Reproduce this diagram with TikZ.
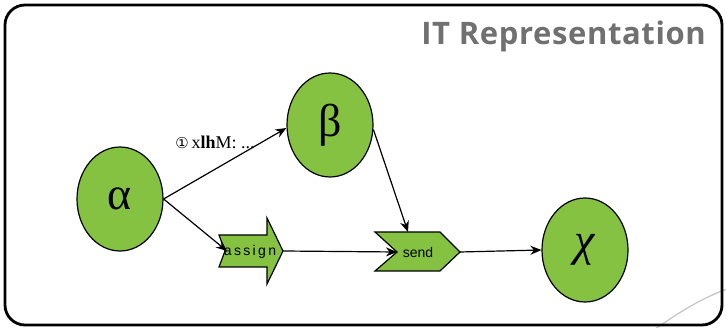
\documentclass[tikz,border=0pt]{standalone}
\usepackage{fontspec}
\setmainfont{Liberation Serif}
\newfontfamily\titlefont[LetterSpace=2]{Open Sans}
\newfontfamily\boxfont{Liberation Sans}
\newfontfamily\symfont{DejaVu Sans}
\usetikzlibrary{arrows.meta,shapes.geometric}
\definecolor{leaf}{RGB}{134,194,66}
\definecolor{titlegray}{RGB}{112,112,112}
\tikzset{
  state/.style={ellipse,draw=black,line width=1.2pt,fill=leaf,
    minimum width=86pt,minimum height=104pt,inner sep=0pt,
    font=\fontsize{46}{46}\selectfont},
  tagshape/.style={draw=black,line width=1.2pt,fill=leaf,line join=miter},
  tagtext/.style={font=\boxfont\fontsize{14}{14}\selectfont,inner sep=0pt},
  flow/.style={line width=1.2pt,-{Stealth[length=11pt,width=9pt]}},
}
\begin{document}
\begin{tikzpicture}[x=1pt,y=-1pt]
\useasboundingbox (0,0) rectangle (726,328);
% soft arc in the corner
\draw[line width=1.3pt,black!22] (655,329) .. controls (680,312) and (700,299) .. (727,289);
% frame
\draw[line width=2.8pt,rounded corners=20pt] (5,5) rectangle (722,325);
% heading
\node[anchor=base east,text=titlegray,font=\titlefont\bfseries\fontsize{31}{31}\selectfont,inner sep=0pt]
  (head) at (706,45) {IT Representation};

% states
\node[state] (alpha) at (120,199) {α};
\node[state] (beta) at (330,125) {β};
\node[state] (chi) at (585,250) {\itshape χ};

% assign: arrow-shaped tag
\filldraw[tagshape] (219,235) -- (267,235) -- (267,218) -- (283,251) -- (267,284)
  -- (267,267) -- (219,267) -- (225,251) -- cycle;
\coordinate (assignIn) at (227,251);
\coordinate (assignOut) at (283,251);
\node[tagtext] (assign) at (250,252) {a\,s\,s\,i\,g\,n};

% send: chevron tag
\filldraw[tagshape] (375,232) -- (440,232) -- (460,252) -- (440,271) -- (375,271)
  -- (397,252) -- cycle;
\coordinate (sendIn) at (397,252);
\coordinate (sendTop) at (408,232);
\coordinate (sendOut) at (460,252);
\node[tagtext] (send) at (418,252) {send};

% connectors
\draw[flow] (alpha.east) -- (beta.west |- 0,128) coordinate (betaIn);
\draw[flow] (alpha.east) -- (assignIn);
\draw[flow] (assignOut) -- (sendIn);
\draw[flow] (beta.-6) -- (sendTop);
\draw[flow] (sendOut) -- (chi.west);

% label on the upper connector
\node[inner sep=0pt,font=\fontsize{18}{18}\selectfont] (lbl) at (215,142)
  {{\symfont\fontsize{15}{15}\selectfont ①}\,x\textbf{lh}M: ...};
\end{tikzpicture}
\end{document}
